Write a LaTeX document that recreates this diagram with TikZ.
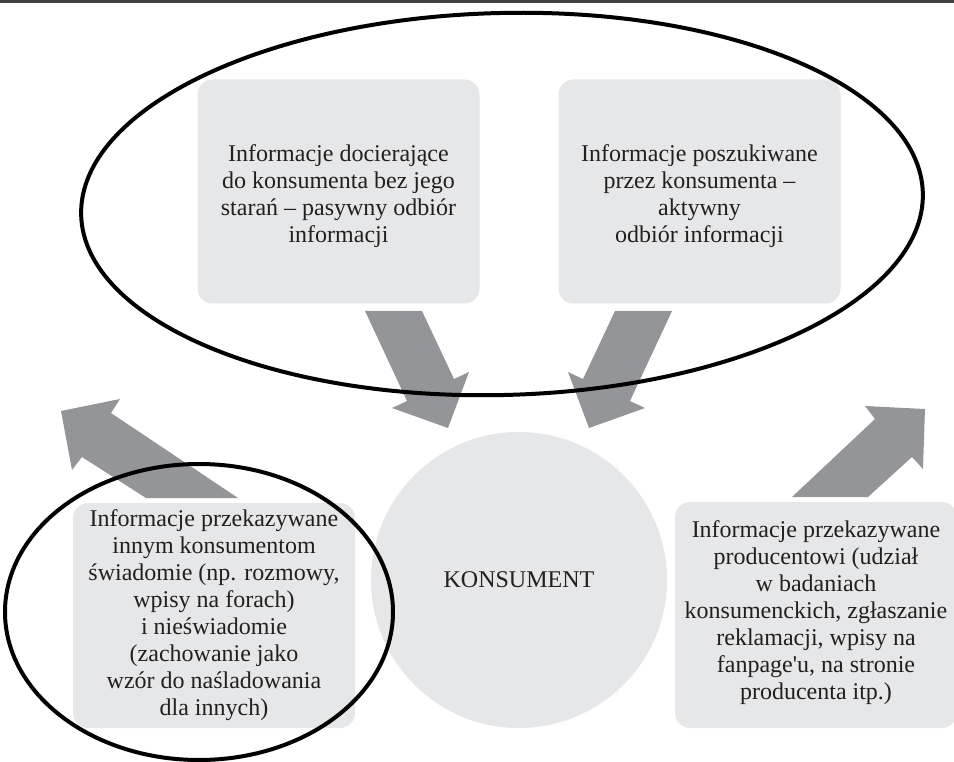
\documentclass[tikz,border=0pt]{standalone}
\usepackage{fontspec}
\setmainfont{Liberation Serif}
\definecolor{boxgray}{HTML}{E6E7E8}
\definecolor{arrgray}{HTML}{939598}
\definecolor{txt}{HTML}{231F20}
\begin{document}
\begin{tikzpicture}[x=1pt,y=-1pt,
  box/.style={fill=boxgray, rounded corners=15pt, minimum width=282pt, minimum height=224pt, inner sep=0pt},
  boxtext/.style={align=center, text=txt, font=\fontsize{24}{27}\selectfont, inner sep=0pt},
  hub/.style={circle, fill=boxgray, minimum size=296pt, text=txt, font=\fontsize{24}{27}\selectfont, inner sep=0pt},
  blockarrow/.style={fill=arrgray, draw=none},
  ring/.style={draw=black, line width=4pt}]
\useasboundingbox (0,0) rectangle (954,762);
\draw[line width=3pt, draw=black!75] (0,1.5) -- (954,1.5);
\node[box] (tl) at (338.5,191.5) {};
\node[box] (tr) at (699.5,191.5) {};
\node[box, minimum height=225pt] (bl) at (214,615.5) {};
\node[box, minimum height=226pt] (br) at (816,615) {};
\node[boxtext] (tltext) at ([yshift=-5pt]tl.center) {Informacje docierające\\do konsumenta bez jego\\starań – pasywny odbiór\\informacji};
\node[boxtext] (trtext) at ([yshift=-5pt]tr.center) {Informacje poszukiwane\\przez konsumenta –\\aktywny\\odbiór informacji};
\node[boxtext] (bltext) at ([yshift=0pt]bl.center) {Informacje przekazywane\\innym konsumentom\\świadomie (np. rozmowy,\\wpisy na forach)\\i nieświadomie\\(zachowanie jako\\wzór do naśladowania\\dla innych)};
\node[boxtext] (brtext) at ([yshift=2pt]br.center) {Informacje przekazywane\\producentowi (udział\\w badaniach\\konsumenckich, zgłaszanie\\reklamacji, wpisy na\\fanpage\textquotesingle u, na stronie\\producenta itp.)};
\node[hub] (kons) at (519,580) {KONSUMENT};
% block arrows
\fill[blockarrow] (365,311) -- (422,311) -- (454,379) -- (469,372) -- (448,428) -- (392,408) -- (407,401) -- cycle;
\fill[blockarrow] (672,311) -- (615,311) -- (583,379) -- (568,372) -- (589,428) -- (645,408) -- (630,401) -- cycle;
\fill[blockarrow] (792,497) -- (868,497) -- (912,457) -- (923,469) -- (925,409) -- (865,406) -- (875,419) -- cycle;
\fill[blockarrow] (238,498) -- (146,498) -- (82,457) -- (72,470) -- (61,411) -- (120,399) -- (111,413) -- cycle;
% ellipses
\draw[ring, rotate around={1.5:(502,204)}] (502,204) ellipse [x radius=421pt, y radius=191pt];
\draw[ring] (199,612) ellipse [x radius=194pt, y radius=148pt];
\end{tikzpicture}
\end{document}
